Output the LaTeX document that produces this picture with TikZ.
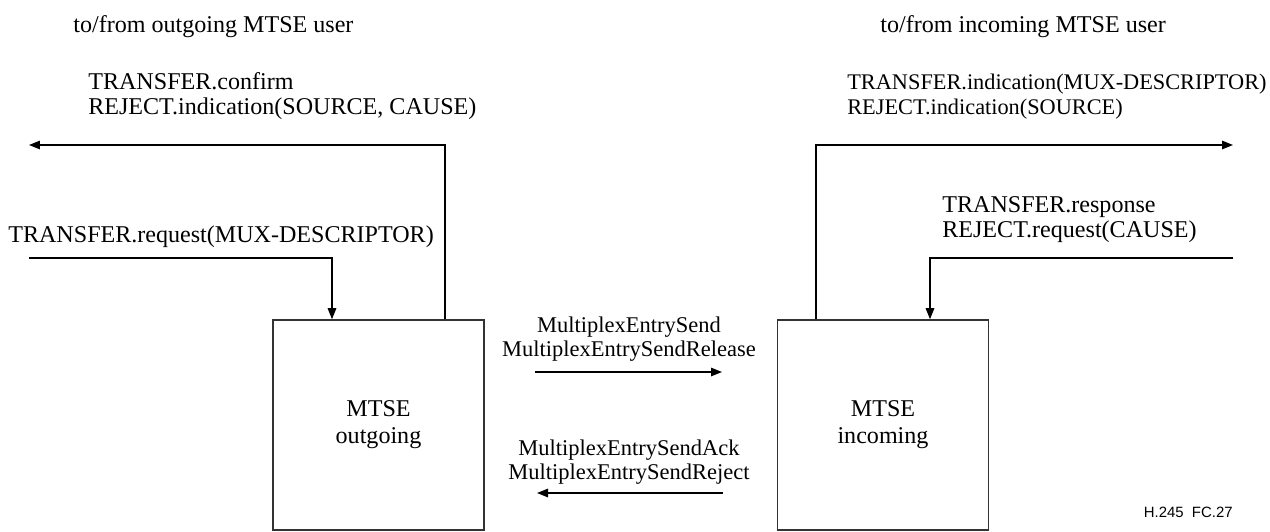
\documentclass[tikz,border=0pt]{standalone}
\usepackage{fontspec}
\setmainfont{Liberation Serif}
\newfontfamily\tagfont{Liberation Sans}
\usetikzlibrary{arrows.meta}

\begin{document}
\begin{tikzpicture}[
        x=0.02cm, y=-0.02cm,
        font=\fontsize{13.7}{13.7}\selectfont,
        mtse/.style={
            rectangle,
            draw=black!80,
            line width=0.9pt,
            minimum width=4.22cm,
            minimum height=4.2cm,
            align=center,
            font=\fontsize{13.7}{15.3}\selectfont
        },
        prim/.style={
            inner sep=0pt,
            anchor=base west,
            align=left
        },
        msg/.style={
            inner sep=0pt,
            anchor=base,
            align=center,
            font=\fontsize{12.8}{13.1}\selectfont
        },
        flow/.style={
            line width=0.8pt,
            -{Triangle[length=2.2mm, width=1.7mm]}
        }
    ]

    % Frame
    \useasboundingbox (0,0) rectangle (1270,531);

    % MTSE blocks
    \node[mtse] (out) at (378.5,425) {MTSE\\outgoing};
    \node[mtse] (in) at (883,425) {MTSE\\incoming};

    % Outgoing side: primitives to/from the user
    \node[prim] (userout) at (73,32) {to/from outgoing MTSE user};
    \node[prim] (confout) at (88,114) {TRANSFER.confirm\\REJECT.indication(SOURCE, CAUSE)};
    \node[prim] (reqout) at (8,242) {TRANSFER.request(MUX-DESCRIPTOR)};

    \coordinate (cornerL) at (445,145);
    \coordinate (toUserL) at (29,145);
    \coordinate (fromUserL) at (29,258);
    \coordinate (reqL) at (332,258);
    \draw[flow] (cornerL |- out.north) -- (cornerL) -- (toUserL);
    \draw[flow] (fromUserL) -- (reqL) -- (reqL |- out.north);

    % Incoming side: primitives to/from the user
    \node[prim] (userin) at (880,32) {to/from incoming MTSE user};
    \node[prim, font=\fontsize{12.7}{13.7}\selectfont] (indin) at (847,114) {TRANSFER.indication(MUX-DESCRIPTOR)\\REJECT.indication(SOURCE)};
    \node[prim] (respin) at (942,237) {TRANSFER.response\\REJECT.request(CAUSE)};

    \coordinate (cornerR) at (816,145);
    \coordinate (toUserR) at (1233,145);
    \coordinate (fromUserR) at (1233,258);
    \coordinate (respR) at (930,258);
    \draw[flow] (cornerR |- in.north) -- (cornerR) -- (toUserR);
    \draw[flow] (fromUserR) -- (respR) -- (respR |- in.north);

    % Messages between the two entities
    \node[msg] (send) at (629,356) {MultiplexEntrySend\\MultiplexEntrySendRelease};
    \node[msg] (ack) at (629,479) {MultiplexEntrySendAck\\MultiplexEntrySendReject};

    \coordinate (sendA) at (535,372);
    \coordinate (sendB) at (722,372);
    \coordinate (ackA) at (723,493);
    \coordinate (ackB) at (537,493);
    \draw[flow] (sendA) -- (sendB);
    \draw[flow] (ackA) -- (ackB);

    % Figure tag
    \node[inner sep=0pt, anchor=base east, font=\tagfont\fontsize{8.5}{10}\selectfont] (tag) at (1233,517) {H.245\ \ FC.27};

\end{tikzpicture}
\end{document}
